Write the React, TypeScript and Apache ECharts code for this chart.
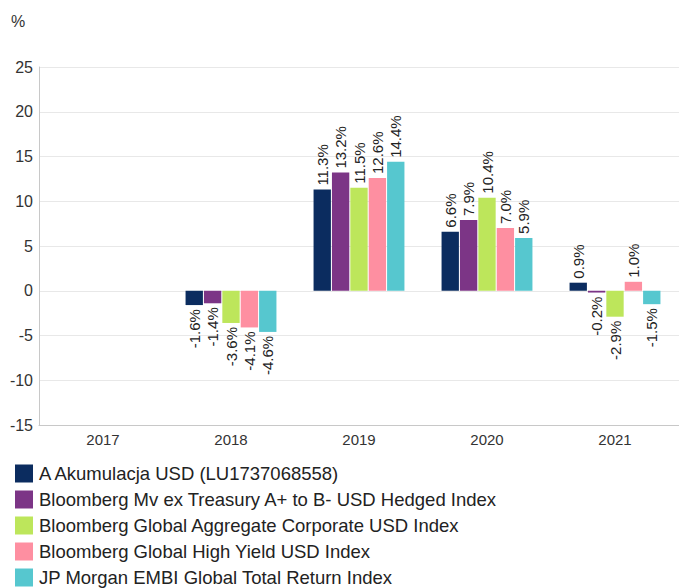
import React, { useEffect, useRef } from "react";
import * as echarts from "echarts";

const categories = ["2017", "2018", "2019", "2020", "2021"];
const seriesNames = [
  "A Akumulacja USD (LU1737068558)",
  "Bloomberg Mv ex Treasury A+ to B- USD Hedged Index",
  "Bloomberg Global Aggregate Corporate USD Index",
  "Bloomberg Global High Yield USD Index",
  "JP Morgan EMBI Global Total Return Index",
];
const fundValues = [null, -1.6, 11.3, 6.6, 0.9];
const mvExTreasuryValues = [null, -1.4, 13.2, 7.9, -0.2];
const globalAggCorpValues = [null, -3.6, 11.5, 10.4, -2.9];
const highYieldValues = [null, -4.1, 12.6, 7.0, 1.0];
const embiValues = [null, -4.6, 14.4, 5.9, -1.5];
const colors = ["#0b2c5f", "#7c3586", "#bde65b", "#fe8fa1", "#56c7cf"];
const yTicks = { min: -15, max: 25, interval: 5 };

const allValues = [fundValues, mvExTreasuryValues, globalAggCorpValues, highYieldValues, embiValues];

export default function App() {
  const ref = useRef<HTMLDivElement>(null);
  useEffect(() => {
    if (!ref.current) return;
    const chart = echarts.init(ref.current, undefined, { renderer: "svg" });
    const font = "'Liberation Sans', Arial, sans-serif";
    const series = allValues.map((vals, i) => ({
      name: seriesNames[i],
      type: "bar",
      barCategoryGap: "29%",
      barGap: "6%",
      itemStyle: { color: colors[i] },
      data: vals.map((v) =>
        v === null
          ? null
          : {
              value: v,
              label: {
                show: true,
                position: v >= 0 ? "top" : "bottom",
                align: v >= 0 ? "left" : "right",
                verticalAlign: "middle",
              },
            }
      ),
      label: {
        show: true,
        rotate: 90,
        distance: 4,
        fontSize: 15,
        color: "#222",
        fontFamily: font,
        formatter: (p: any) => Number(p.value).toFixed(1) + "%",
      },
    }));
    chart.setOption({
      animation: false,
      textStyle: { fontFamily: font },
      color: colors,
      grid: { left: 39, right: -3, top: 67, bottom: 163, containLabel: false },
      graphic: [
        {
          type: "text",
          left: 11,
          top: 13,
          style: { text: "%", fontSize: 16, fill: "#333", fontFamily: font },
        },
      ],
      legend: {
        orient: "vertical",
        left: 15,
        top: 464,
        height: 200,
        padding: 0,
        itemWidth: 18,
        itemHeight: 18,
        itemGap: 7,
        icon: "rect",
        textStyle: { fontSize: 18.5, lineHeight: 18, color: "#222", fontFamily: font, padding: [0, 0, 0, 1] },
        data: seriesNames,
      },
      xAxis: {
        type: "category",
        data: categories,
        axisLine: { onZero: false, lineStyle: { color: "#c8c8c8" } },
        axisTick: { show: false },
        axisLabel: { color: "#333", fontSize: 15, margin: 7, fontFamily: font },
      },
      yAxis: {
        type: "value",
        min: yTicks.min,
        max: yTicks.max,
        interval: yTicks.interval,
        axisLine: { show: true, lineStyle: { color: "#c8c8c8" } },
        axisTick: { show: false },
        splitLine: { lineStyle: { color: "#e8e8e8" } },
        axisLabel: { color: "#333", fontSize: 16, margin: 6, fontFamily: font },
      },
      series,
    });
    return () => chart.dispose();
  }, []);
  return (
    <div
      ref={ref}
      style={{ position: "fixed", left: 0, top: 0, width: 679, height: 588, background: "#fff" }}
    />
  );
}
